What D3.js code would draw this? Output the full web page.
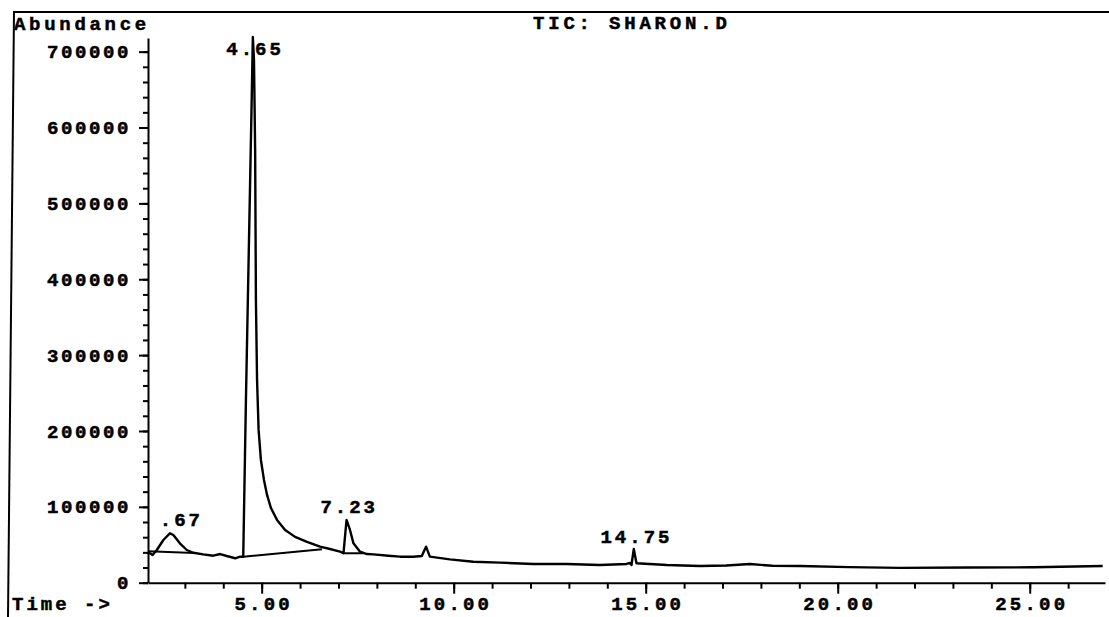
<!DOCTYPE html>
<html>
<head>
<meta charset="utf-8">
<script src="https://cdn.jsdelivr.net/npm/d3@7"></script>
<style>
  html, body { margin: 0; padding: 0; background: #fff; }
  svg { display: block; }
  text { font-family: "Courier New", "Liberation Mono", monospace; font-weight: bold; fill: #000; stroke: #000; stroke-width: 0.5px; }
</style>
</head>
<body>
<div id="chart"></div>
<script>
// retention time (min) and abundance of the TIC trace
const times = [2.04, 2.16, 2.27, 2.44, 2.61, 2.70, 2.87, 3.05, 3.22, 3.48, 3.74, 3.92, 4.09, 4.31, 4.44,
  4.52, 4.59, 4.64, 4.70, 4.74, 4.77, 4.80, 4.83, 4.85, 4.88, 4.92, 4.98, 5.06, 5.14, 5.24, 5.40,
  5.61, 5.87, 6.18, 6.52, 6.78, 7.04, 7.13, 7.21, 7.30, 7.39, 7.56, 7.74, 7.91, 8.30, 8.60, 8.95, 9.17,
  9.28, 9.38, 9.90, 10.51, 11.21, 12.07, 12.94, 13.81, 14.50, 14.59, 14.63, 14.69, 14.76, 15.55,
  16.41, 17.10, 17.71, 18.30, 19.02, 20.30, 21.62, 23.40, 25.08, 26.90];
const abundance = [40500, 36500, 43100, 56300, 65100, 62900, 51900, 43100, 39500, 37400, 35600, 37800, 35200, 32200, 34300,
  34300, 240800, 372700, 530900, 636300, 719300, 689000, 570000, 372700, 267300, 201400, 161800, 135500, 115700, 98600, 82800,
  69600, 60400, 53800, 47500, 44400, 40900, 38800, 82700, 69500, 51900, 40900, 37800, 37400, 35600, 34300, 34300, 35200,
  47500, 34300, 30800, 27700, 26400, 24700, 24700, 23300, 24700, 26000, 23300, 44400, 25600, 23300,
  22000, 22700, 24700, 22300, 22000, 20500, 19500, 20000, 20300, 22000];

// integration baselines drawn under the labelled peaks
const baseStartTime = [2.04, 4.52, 7.13];
const baseStartAbund = [41500, 34300, 38800];
const baseEndTime = [3.25, 6.57, 7.65];
const baseEndAbund = [39000, 44200, 38800];

// peak labels
const labelText = ['.67', '4.65', '7.23', '14.75'];
const labelTime = [2.87, 4.79, 7.24, 14.72];
const labelAbund = [74700, 695600, 92300, 52300];

const yMajor = [0, 100000, 200000, 300000, 400000, 500000, 600000, 700000];
const yMinor = d3.range(0, 720000, 20000);
const xMajor = [5, 10, 15, 20, 25];
const xMinor = d3.range(3, 27, 1);

const width = 1109;
const height = 617;

const svg = d3.select('#chart').append('svg')
  .attr('width', width)
  .attr('height', height);

const x = d3.scaleLinear().domain([2.04, 26.96]).range([148, 1105]);
const y = d3.scaleLinear().domain([0, 718000]).range([582.7, 38]);

// page frame
svg.append('line')
  .attr('x1', 14).attr('y1', 11).attr('x2', 8).attr('y2', 617)
  .attr('stroke', '#000').attr('stroke-width', 2);
svg.append('line')
  .attr('x1', 13).attr('y1', 12).attr('x2', 1109).attr('y2', 12)
  .attr('stroke', '#000').attr('stroke-width', 2);

// y axis
const yMinorAxis = svg.append('g')
  .attr('transform', `translate(${x.range()[0]},0)`)
  .call(d3.axisLeft(y).tickValues(yMinor).tickSize(5).tickSizeOuter(0).tickFormat(''));
yMinorAxis.select('.domain').remove();

const yAxis = svg.append('g')
  .attr('transform', `translate(${x.range()[0]},0)`)
  .call(d3.axisLeft(y).tickValues(yMajor).tickSize(9).tickSizeOuter(0).tickFormat(d3.format('d')));

// x axis
const xMinorAxis = svg.append('g')
  .attr('transform', `translate(0,${y(0)})`)
  .call(d3.axisBottom(x).tickValues(xMinor).tickSize(6).tickSizeOuter(0).tickFormat(''));
xMinorAxis.select('.domain').remove();

const xAxis = svg.append('g')
  .attr('transform', `translate(0,${y(0)})`)
  .call(d3.axisBottom(x).tickValues(xMajor).tickSize(11).tickSizeOuter(0).tickPadding(3).tickFormat(d3.format('.2f')));

svg.selectAll('.tick line, .domain')
  .attr('stroke', '#000')
  .attr('stroke-width', 2);

svg.selectAll('.tick text')
  .attr('font-family', null)
  .style('font-size', '19px');
yAxis.selectAll('.tick text')
  .attr('x', -17)
  .style('letter-spacing', '2.6px');
xAxis.selectAll('.tick text')
  .attr('dx', '1.5px')
  .style('letter-spacing', '3.2px');

// trace
const line = d3.line()
  .x((d, i) => x(times[i]))
  .y(d => y(d));

svg.append('path')
  .datum(abundance)
  .attr('fill', 'none')
  .attr('stroke', '#000')
  .attr('stroke-width', 2.4)
  .attr('stroke-linejoin', 'round')
  .attr('d', line);

// integration baselines
svg.selectAll('.baseline')
  .data(baseStartTime)
  .enter().append('line')
  .attr('class', 'baseline')
  .attr('x1', d => x(d))
  .attr('y1', (d, i) => y(baseStartAbund[i]))
  .attr('x2', (d, i) => x(baseEndTime[i]))
  .attr('y2', (d, i) => y(baseEndAbund[i]))
  .attr('stroke', '#000')
  .attr('stroke-width', 2);

// peak labels
svg.selectAll('.peak-label')
  .data(labelText)
  .enter().append('text')
  .attr('class', 'peak-label')
  .attr('x', (d, i) => x(labelTime[i]) + 1.5)
  .attr('y', (d, i) => y(labelAbund[i]))
  .attr('text-anchor', 'middle')
  .style('font-size', '19px')
  .style('letter-spacing', '3px')
  .text(d => d);

// titles
svg.append('text')
  .attr('x', 14).attr('y', 30)
  .style('font-size', '19px')
  .style('letter-spacing', '3.7px')
  .text('Abundance');

svg.append('text')
  .attr('x', 533).attr('y', 29)
  .style('font-size', '19px')
  .style('letter-spacing', '3.8px')
  .text('TIC: SHARON.D');

svg.append('text')
  .attr('x', 12).attr('y', 610)
  .style('font-size', '19px')
  .style('letter-spacing', '3px')
  .text('Time ->');
</script>
</body>
</html>
